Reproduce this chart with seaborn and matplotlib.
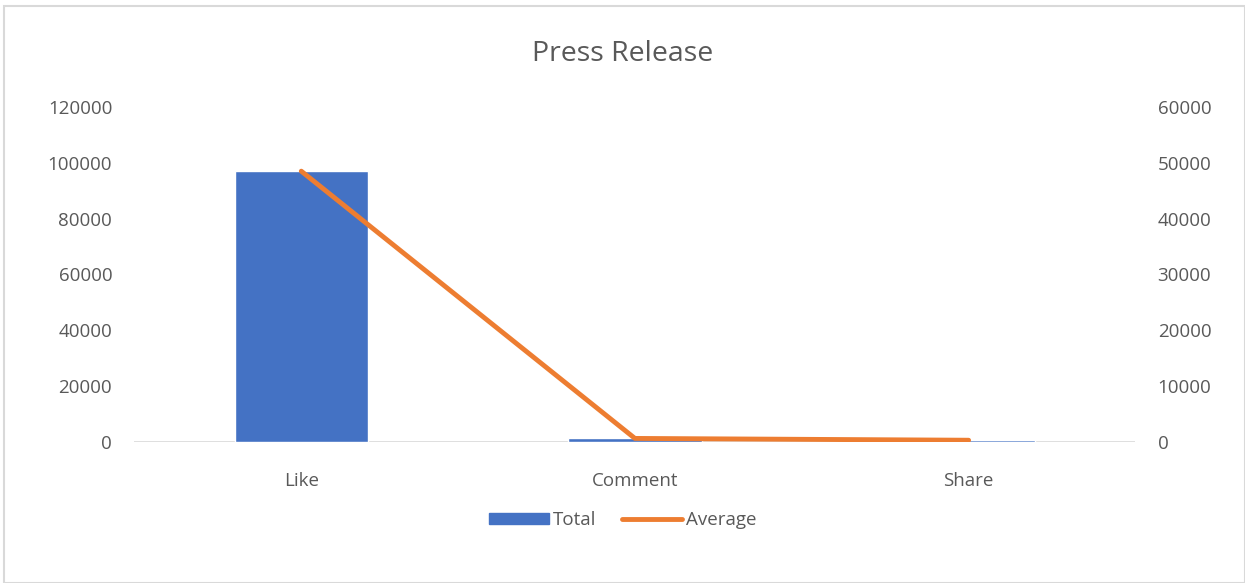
import matplotlib
matplotlib.use('Agg')
import matplotlib.pyplot as plt
import seaborn as sns
import pandas as pd
from matplotlib.patches import Rectangle
from matplotlib.lines import Line2D

categories = ['Like', 'Comment', 'Share']
total = [97000, 1250, 600]
average = [48500, 625, 300]

sns.set_style('white')
plt.rcParams['font.family'] = ['Open Sans', 'DejaVu Sans']

df = pd.DataFrame({'cat': categories, 'total': total, 'average': average})

fig = plt.figure(figsize=(12.45, 5.83), dpi=100)
ax = fig.add_axes([0.108, 0.242, 0.804, 0.5745])

sns.barplot(data=df, x='cat', y='total', color='#4472C4', width=0.4, saturation=1, ax=ax)
ax.set_ylim(0, 120000)
ax.set_yticks(range(0, 120001, 20000))

ax2 = ax.twinx()
sns.lineplot(data=df, x='cat', y='average', color='#ED7D31', linewidth=3.5, ax=ax2, solid_capstyle='round')
ax2.set_ylim(0, 60000)
ax2.set_yticks(range(0, 60001, 10000))
ax.set_xlim(-0.5, 2.5)

gray = '#595959'
for a in (ax, ax2):
    for s in a.spines.values():
        s.set_visible(False)
    a.set_xlabel('')
    a.set_ylabel('')
    a.tick_params(length=0, labelsize=13.5, colors=gray)
ax.tick_params(axis='y', pad=16)
ax2.tick_params(axis='y', pad=16)
ax.tick_params(axis='x', pad=22)
ax.axhline(0, color='#D9D9D9', linewidth=1.2, zorder=0)

fig.text(0.5, 0.908, 'Press Release', ha='center', va='center', fontsize=20.5, color=gray)

handles = [Rectangle((0, 0), 1, 1, color='#4472C4'), Line2D([0], [0], color='#ED7D31', linewidth=3.5)]
fig.legend(handles, ['Total', 'Average'], loc='center', bbox_to_anchor=(0.5, 0.108), ncol=2,
           frameon=False, fontsize=13.5, labelcolor=gray, handlelength=3.2, handleheight=0.5,
           columnspacing=1.4, handletextpad=0.2)

fig.add_artist(Rectangle((0.003, 0.0), 0.997, 0.99, transform=fig.transFigure, fill=False,
                         edgecolor='#D9D9D9', linewidth=1.5))

plt.savefig('out.png', dpi=100)
